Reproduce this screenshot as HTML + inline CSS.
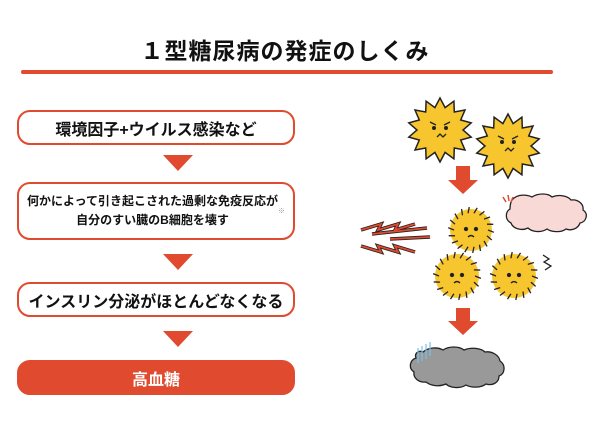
<!DOCTYPE html>
<html><head><meta charset="utf-8"><style>
*{margin:0;padding:0;box-sizing:border-box}
body{width:600px;height:432px;background:#fff;position:relative;overflow:hidden;font-family:"Liberation Sans","Noto Sans CJK JP",sans-serif;color:#222}
.title{position:absolute;left:0;width:570px;top:32px;text-align:center;font-size:23px;font-weight:bold;letter-spacing:1px;color:#111}
.line{position:absolute;left:21px;top:70px;height:4px;background:#e04a2f;border-radius:2px}
.box{position:absolute;left:17px;width:278px;border:2px solid #e04a2f;border-radius:13px;display:flex;align-items:center;justify-content:center;text-align:center;font-weight:bold;color:#111}
.tri{position:absolute;left:163px;width:0;height:0;border-left:15px solid transparent;border-right:15px solid transparent;border-top:16px solid #e04a2f}
</style></head><body>
<div class="title">１型糖尿病の発症のしくみ</div>
<div class="line" style="width:532px"></div>
<div class="box" style="top:110px;height:35px;font-size:16px">環境因子+ウイルス感染など</div>
<div class="tri" style="top:155px"></div>
<div class="box" style="top:182px;height:58px;font-size:12px;line-height:19px">何かによって引き起こされた過剰な免疫反応が<br>自分のすい臓のB細胞を壊す<span style="font-size:7px;color:#999">※</span></div>
<div class="tri" style="top:254px"></div>
<div class="box" style="top:282px;height:35px;font-size:16px">インスリン分泌がほとんどなくなる</div>
<div class="tri" style="top:331px"></div>
<div class="box" style="top:360px;height:35px;font-size:16px;background:#e04a2f;color:#fff">高血糖</div>
<svg width="600" height="432" style="position:absolute;left:0;top:0" id="s">
<g stroke="#222" stroke-width="1.5" fill="#f7c62f" id="stars"></g>
<g fill="#222">
<circle cx="434" cy="128" r="2"/><circle cx="446" cy="128" r="2"/>
<circle cx="502" cy="142" r="2"/><circle cx="514" cy="142" r="2"/>
</g>
<g stroke="#222" stroke-width="1.3" fill="none">
<path d="M430 122l6 3M450 122l-6 3M437 137l3-3 3 3 3-3"/>
<path d="M498 136l6 3M518 136l-6 3M505 151l3-3 3 3 3-3"/>
</g>
<path d="M456 166h14v14h8l-15 14-15-14h8z" fill="#e04a2f"/>
<path d="M456 308h14v13h8l-15 14-15-14h8z" fill="#e04a2f"/>
<path d="M512 200c6-7 16-5 20-3 6-4 16-4 20 0 7-3 16-1 19 3 7-1 13 4 12 10 6 4 3 12-3 13-2 6-9 8-14 6-5 4-15 3-19 0-6 4-15 3-19-1-6 3-15 1-17-5-6-3-6-11-1-14 0-4 1-8 2-9z" fill="#f8d9d6" stroke="#222" stroke-width="1.3"/>
<path d="M423 352c6-5 15-5 20-2 6-4 16-4 21 0 7-3 17-2 21 2 7-1 14 3 15 9 6 4 5 13-1 15 0 7-7 10-13 8-5 4-15 4-20 1-6 4-16 3-20-1-7 3-15 2-20-2-7 1-13-4-12-10-6-4-4-12 2-14-2-5 3-8 7-6z" fill="#999" stroke="#222" stroke-width="1.3"/>
<g stroke="#7cc0e8" stroke-width="1.2"><path d="M418 348v15M422 346v15M426 344v15M430 342v14"/></g>
<g stroke="#e04a2f" stroke-width="1.5"><path d="M503 197l3 5M508 195l1 6M513 197l-2 5"/></g>
<g fill="#f7c62f" stroke="#222" stroke-width="1.3" id="fluff"></g>
<g fill="none" stroke="#222" stroke-width="3.5">
<path d="M361 230l20-6-3 6 20-6-3 6 20-6"/>
<path d="M372 234l55-6"/><path d="M390 239l40-2"/>
<path d="M361 246l20 6-3-6 20 6-3-6 20 6"/>
</g>
<g fill="none" stroke="#e04a2f" stroke-width="1.8">
<path d="M361 230l20-6-3 6 20-6-3 6 20-6"/>
<path d="M372 234l55-6"/><path d="M390 239l40-2"/>
<path d="M361 246l20 6-3-6 20 6-3-6 20 6"/>
</g>
<path d="M543 255l6 4-5 3 7 4-6 4" fill="none" stroke="#222" stroke-width="1.3"/>
</svg>
<script>
var ns="http://www.w3.org/2000/svg";
function star(cx,cy,R,r,n){var p=[];for(var i=0;i<2*n;i++){var a=Math.PI*i/n-Math.PI/2,rr=i%2?r:R;p.push((cx+rr*Math.cos(a)).toFixed(1)+","+(cy+rr*Math.sin(a)).toFixed(1));}
var e=document.createElementNS(ns,"polygon");e.setAttribute("points",p.join(" "));document.getElementById("stars").appendChild(e);}
star(440,130,32,23,14);star(508,146,32,23,14);
function fluff(cx,cy,R){var g=document.getElementById("fluff");var c=document.createElementNS(ns,"circle");c.setAttribute("cx",cx);c.setAttribute("cy",cy);c.setAttribute("r",R);c.setAttribute("stroke","none");g.appendChild(c);
for(var i=0;i<18;i++){var a=Math.PI*2*i/18;var l=document.createElementNS(ns,"line");l.setAttribute("x1",cx+(R-4)*Math.cos(a));l.setAttribute("y1",cy+(R-4)*Math.sin(a));l.setAttribute("x2",cx+(R+2)*Math.cos(a+0.1));l.setAttribute("y2",cy+(R+2)*Math.sin(a+0.1));g.appendChild(l);}
[[-5,0],[5,0]].forEach(function(d){var e=document.createElementNS(ns,"circle");e.setAttribute("cx",cx+d[0]);e.setAttribute("cy",cy-1);e.setAttribute("r",1.5);e.setAttribute("fill","#222");g.appendChild(e);});
var m=document.createElementNS(ns,"path");m.setAttribute("d","M"+(cx-3)+" "+(cy+7)+"q3-3 6 0");m.setAttribute("fill","none");g.appendChild(m);}
fluff(471,230,21);fluff(457,276,22);fluff(514,276,22);
</script>
</body></html>
